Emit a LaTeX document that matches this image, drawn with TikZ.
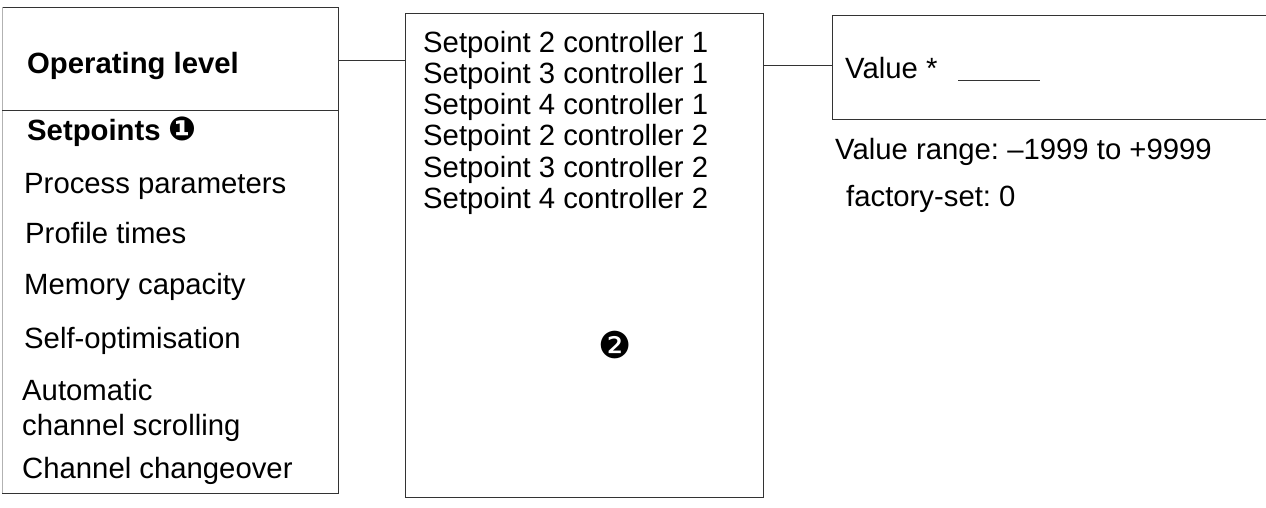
\documentclass[tikz,border=0pt]{standalone}
\usepackage{fontspec}
\setmainfont{Liberation Sans}
\newfontfamily\dvfont{DejaVu Sans}
\frenchspacing
\begin{document}
\begin{tikzpicture}[x=1pt,y=-1pt,
  frame/.style={draw=black!80,line width=0.9pt},
  txt/.style={anchor=base west,inner sep=0pt,font=\fontsize{29.3}{29.3}\selectfont},
  btxt/.style={txt,font=\fontsize{29.3}{29.3}\selectfont\bfseries},
  circnum/.style={inner sep=0pt,font=\fontsize{37}{37}\selectfont\dvfont}]
\useasboundingbox (0,0) rectangle (1266,508);
% boxes as named nodes (outline drawn below)
\node[draw=none,inner sep=0pt,minimum width=336pt,minimum height=486pt,anchor=north west] (lbox) at (2,7) {};
\node[frame,inner sep=0pt,minimum width=358pt,minimum height=484pt,anchor=north west] (mid) at (405,13) {};
\node[draw=none,inner sep=0pt,minimum width=440pt,minimum height=104pt,anchor=north west] (rbox) at (832,15) {};
% left box outline (top, right, bottom) and divider
\draw[frame] (lbox.north west) -- (lbox.north east) -- (lbox.south east) -- (lbox.south west);
\draw[draw=black!30,line width=0.6pt] (lbox.north west) -- (lbox.south west);
\coordinate (divl) at (2,110);
\draw[frame] (divl) -- (divl -| lbox.east);
% right box outline (open at right)
\draw[frame] (rbox.north east) -- (rbox.north west) -- (rbox.south west) -- (rbox.south east);
% connectors
\coordinate (c1) at (338,60);
\draw[frame] (c1 -| lbox.east) -- (c1 -| mid.west);
\coordinate (c2) at (763,65);
\draw[frame] (c2 -| mid.east) -- (c2 -| rbox.west);
% left texts
\node[btxt] (op) at (27,74) {Operating level};
\node[btxt] (sp) at (27,141) {Setpoints {\dvfont\fontsize{33}{33}\selectfont ❶}};
\node[txt] (pp) at (24,193) {Process parameters};
\node[txt] (pt) at (25,243) {Profile times};
\node[txt] (mc) at (24,294) {Memory capacity};
\node[txt] (so) at (24,348) {Self-optimisation};
\node[txt] (au) at (22,400) {Automatic};
\node[txt] (cs) at (22,435) {channel scrolling};
\node[txt] (cc) at (22,478) {Channel changeover};
% middle texts
\node[txt] (m1) at (423,53) {Setpoint 2 controller 1};
\node[txt] (m2) at (423,84) {Setpoint 3 controller 1};
\node[txt] (m3) at (423,115) {Setpoint 4 controller 1};
\node[txt] (m4) at (423,146) {Setpoint 2 controller 2};
\node[txt] (m5) at (423,177) {Setpoint 3 controller 2};
\node[txt] (m6) at (423,208) {Setpoint 4 controller 2};
\node[circnum] (n2) at (615,345) {❷};
% right texts
\node[txt] (val) at (845,79) {Value *};
\coordinate (ul) at (958,80);
\draw[frame] (ul) -- ++(82,0);
\node[txt] (vr) at (835,160) {Value range: –1999 to +9999};
\node[txt] (fs) at (846,206) {factory-set: 0};
\end{tikzpicture}
\end{document}
